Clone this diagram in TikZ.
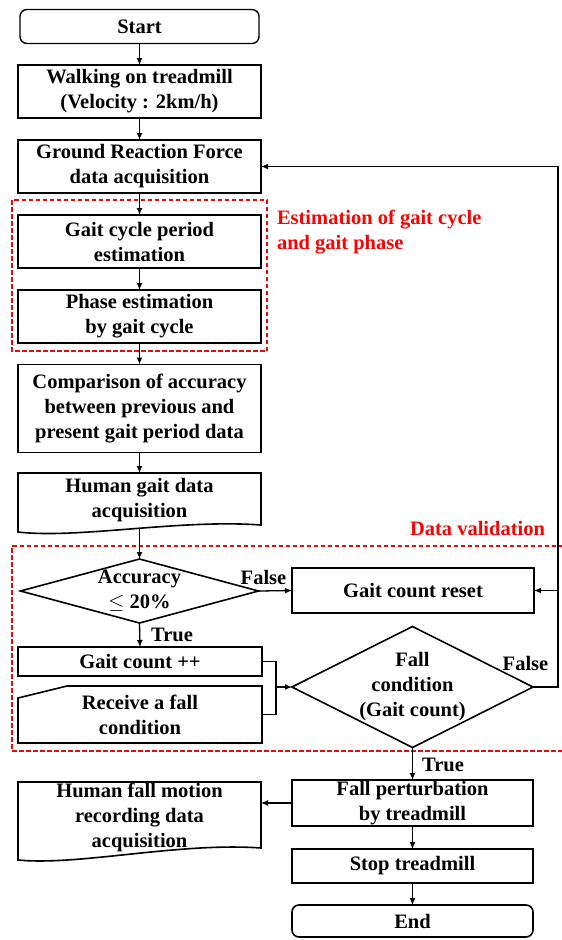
\documentclass[tikz,border=0pt]{standalone}
\usepackage{fontspec}
\setmainfont{Liberation Serif}
\usetikzlibrary{arrows.meta,shapes.geometric,calc}
\begin{document}
\begin{tikzpicture}[x=1pt,y=-1pt,
  every node/.style={font=\fontsize{20.5}{25}\selectfont\bfseries, align=center, inner sep=0pt, outer sep=0pt},
  box/.style={draw, line width=1.6pt, minimum width=243},
  rbox/.style={draw, line width=1.6pt, minimum width=241},
  term/.style={draw, line width=1.4pt, rounded corners=7pt},
  dia/.style={draw, diamond, line width=1.6pt},
  shp/.style={line width=1.6pt},
  arr/.style={-{Latex[length=7pt,width=6pt]}, line width=1.3pt},
  lin/.style={line width=1.3pt},
  reddash/.style={draw=red, line width=1.4pt, dash pattern=on 4.5pt off 2.5pt},
  redtxt/.style={text=red}
]
\useasboundingbox (0,0) rectangle (562,940);

% left column
\node[term, minimum width=239, minimum height=34] (start) at (139.5,26.5) {Start};
\node[box, minimum height=53] (walk) at (139.5,91.5) {Walking on treadmill\\(Velocity : 2km/h)};
\node[box, minimum height=53] (grf) at (139.5,166.5) {Ground Reaction Force\\data acquisition};
\node[box, minimum height=53] (gcp) at (139.5,241.5) {Gait cycle period\\estimation};
\node[box, minimum height=53] (ph) at (139.5,316.5) {Phase estimation\\by gait cycle};
\node[box, minimum height=88] (cmp) at (139.5,408.5) {Comparison of accuracy\\between previous and\\present gait period data};
\node[minimum width=243, minimum height=54] (hg) at (139.5,500) {Human gait data\\acquisition};
\draw[shp] (hg.north west) -- (hg.north east) -- ($(hg.south east)+(0,-2)$)
  .. controls ($(hg.south)+(40,-8)$) and ($(hg.south west)+(60,12)$) .. ($(hg.south west)+(0,5)$) -- cycle;

% red groups
\draw[reddash] (12,200) rectangle (267,351);
\node[redtxt, anchor=west, align=left] (est) at (277,232) {Estimation of gait cycle\\and gait phase};
\draw[reddash] (563,546) -- (12,546) -- (12,751) -- (563,751);
\node[redtxt] (dv) at (477.5,528) {Data validation};

% validation
\node[dia, minimum width=238, minimum height=64] (acc) at (139.5,591) {};
\node (acctxt) at (acc.center) {Accuracy\\$\leq$ 20\%};
\node[rbox, minimum width=242, minimum height=45] (reset) at (413,590.5) {Gait count reset};
\node[box, minimum width=244, minimum height=29] (gcpp) at (140,661.5) {Gait count ++};
\node[minimum width=244, minimum height=57] (rec) at (140,714.5) {Receive a fall\\condition};
\draw[shp] (rec.south west) -- ($(rec.north west)+(0,12)$) -- ($(rec.north west)+(49,0)$) -- (rec.north east) -- (rec.south east) -- cycle;
\node[dia, minimum width=241, minimum height=121] (fall) at (412.5,687) {};
\node (falltxt) at (fall.center) {Fall\\condition\\(Gait count)};

% bottom
\node[rbox, minimum height=46] (fp) at (412.5,803) {Fall perturbation\\by treadmill};
\node[rbox, minimum height=34] (stop) at (412.5,866) {Stop treadmill};
\node[term, line width=1.6pt, minimum width=241, minimum height=32] (end) at (412.5,921) {End};
\node[minimum width=243, minimum height=70] (hf) at (139.5,817) {Human fall motion\\recording data\\acquisition};
\draw[shp] (hf.north west) -- (hf.north east) -- ($(hf.south east)+(0,-4)$)
  .. controls ($(hf.south)+(40,-10)$) and ($(hf.south west)+(60,14)$) .. ($(hf.south west)+(0,8)$) -- cycle;

% labels
\node (f1) at (263.5,577) {False};
\node (t1) at (172,635) {True};
\node (f2) at (525.5,663) {False};
\node (t2) at (443,765) {True};

% connectors
\draw[arr] (start.south) -- (walk.north);
\draw[arr] (walk.south) -- (grf.north);
\draw[arr] (grf.south) -- (gcp.north);
\draw[arr] (gcp.south) -- (ph.north);
\draw[arr] (ph.south) -- (cmp.north);
\draw[arr] (cmp.south) -- (hg.north);
\coordinate (hgb) at ($(hg.south)+(0,2)$);
\draw[arr] (hgb) -- (acc.north);
\draw[arr] (acc.east) -- (reset.west);
\draw[arr] (acc.south) -- (gcpp.north);
\coordinate (j) at (276,687);
\draw[lin] (gcpp.east) -| (j) |- (rec.east);
\draw[arr] (j) -- (fall.west);
\coordinate (lp) at (558,687);
\draw[arr] (fall.east) -- (lp) -- (lp |- grf.east) -- (grf.east);
\draw[arr] (lp |- reset.east) -- (reset.east);
\draw[arr] (fall.south) -- (fp.north);
\draw[arr] (fp.west) -- (fp.west -| hf.east);
\draw[arr] (fp.south) -- (stop.north);
\draw[arr] (stop.south) -- (end.north);
\end{tikzpicture}
\end{document}
